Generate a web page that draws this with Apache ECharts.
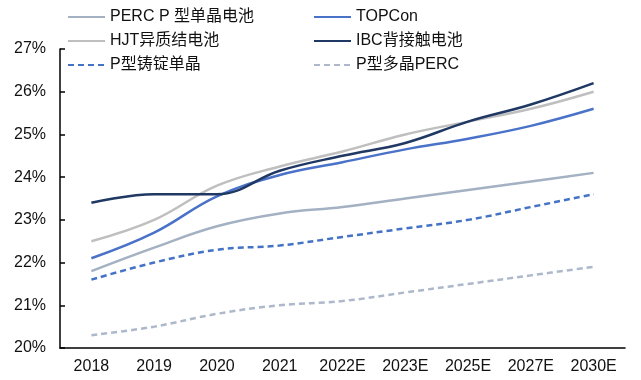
<!DOCTYPE html>
<html><head><meta charset="utf-8">
<script src="https://cdn.jsdelivr.net/npm/echarts@6/dist/echarts.min.js"></script>
<style>html,body{margin:0;padding:0;background:#fff}#c{width:641px;height:380px}</style>
</head><body><div id="c"></div>
<script>
var categories = ['2018','2019','2020','2021','2022E','2023E','2025E','2027E','2030E'];
var perc   = [21.8, 22.35, 22.85, 23.15, 23.3, 23.5, 23.7, 23.9, 24.1];
var topcon = [22.1, 22.7, 23.55, 24.05, 24.35, 24.65, 24.9, 25.2, 25.6];
var hjt    = [22.5, 23.0, 23.8, 24.25, 24.6, 25.0, 25.3, 25.6, 26.0];
var ibc    = [23.4, 23.6, 23.6, 24.15, 24.5, 24.8, 25.3, 25.7, 26.2];
var ingot  = [21.6, 22.0, 22.3, 22.4, 22.6, 22.8, 23.0, 23.3, 23.6];
var multi  = [20.3, 20.5, 20.8, 21.0, 21.1, 21.3, 21.5, 21.7, 21.9];
var names = ['PERC P 型单晶电池','TOPCon','HJT异质结电池','IBC背接触电池','P型铸锭单晶','P型多晶PERC'];

var font = 'Liberation Sans, Arial, Noto Sans CJK SC, sans-serif';
function mk(name, data, color, type) {
  return {name: name, type: 'line', data: data, smooth: 0.4, symbol: 'none',
    lineStyle: {color: color, width: 2.5, type: type}, itemStyle: {color: color}};
}
var legendCommon = {orient: 'vertical', top: 9, padding: 0, itemWidth: 37, itemHeight: 14, itemGap: 8,
  itemStyle: {opacity: 0},
  textStyle: {fontFamily: font, fontSize: 16, color: '#111'}};
var chart = echarts.init(document.getElementById('c'));
chart.setOption({
  animation: false,
  textStyle: {fontFamily: font},
  legend: [
    Object.assign({left: 67, data: [names[0], names[2], names[4]]}, legendCommon),
    Object.assign({left: 313, data: [names[1], names[3], names[5]]}, legendCommon)
  ],
  grid: {left: 60, right: 16, top: 49, bottom: 32, containLabel: false},
  xAxis: {type: 'category', data: categories, boundaryGap: true,
    axisLine: {lineStyle: {color: '#000', width: 1.5}},
    axisTick: {inside: true, length: 5, lineStyle: {color: '#000', width: 1.5}},
    axisLabel: {fontSize: 16, color: '#111', margin: 11, fontFamily: font},
    splitLine: {show: false}},
  yAxis: {type: 'value', min: 20, max: 27, interval: 1,
    axisLine: {show: true, lineStyle: {color: '#000', width: 1.5}},
    axisTick: {show: true, inside: true, length: 5, lineStyle: {color: '#000', width: 1.5}},
    axisLabel: {fontSize: 16, color: '#111', margin: 14, formatter: '{value}%', fontFamily: font},
    splitLine: {show: false}},
  series: [
    mk(names[0], perc, '#a3b1c2', 'solid'),
    mk(names[1], topcon, '#4a72c8', 'solid'),
    mk(names[2], hjt, '#bfbfbf', 'solid'),
    mk(names[3], ibc, '#1f3864', 'solid'),
    mk(names[4], ingot, '#4472c4', [6,4]),
    mk(names[5], multi, '#adb9ca', [6,4])
  ]
});
</script></body></html>
